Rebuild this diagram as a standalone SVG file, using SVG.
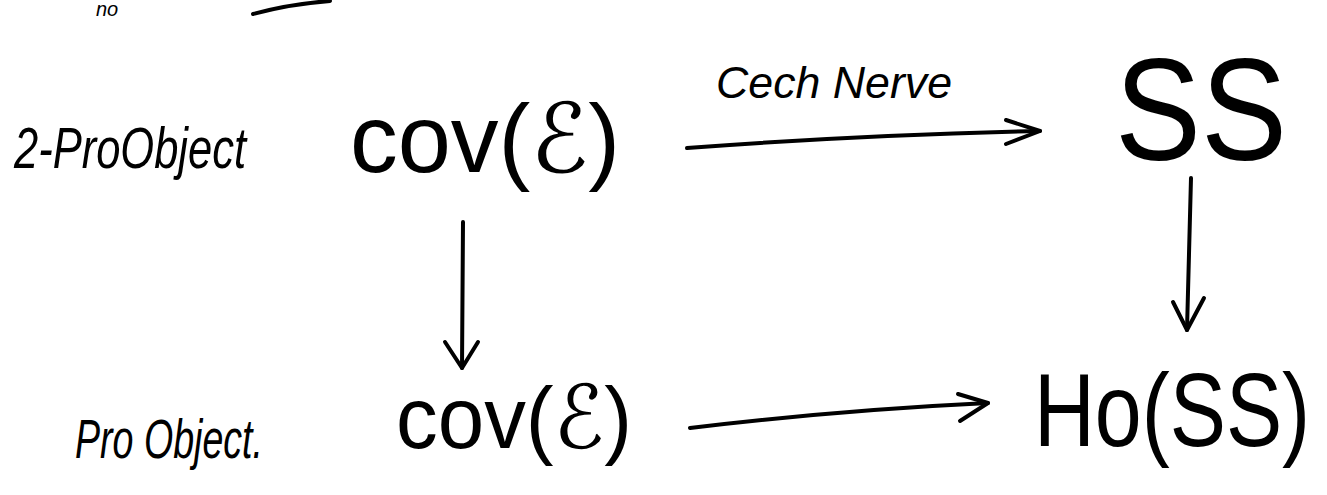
<svg xmlns="http://www.w3.org/2000/svg" width="1327" height="495" viewBox="0 0 1327 495">
<style>
.t{font-family:"Liberation Sans","DejaVu Sans",sans-serif;fill:#000}
.hw{font-family:"Liberation Sans","DejaVu Sans",sans-serif;fill:#000;font-style:italic}
.c{fill:none;stroke:#000;stroke-width:4;stroke-linecap:round;stroke-linejoin:round}
</style>
<rect width="1327" height="495" fill="#fff"/>
<g id="top-fragment">
<text class="hw" x="96" y="16" font-size="20">no</text>
<path class="c" d="M253,14 Q290,4 330,1" stroke-width="5"/>
</g>
<g id="label-2proobject">
<text class="hw" x="14" y="168" font-size="58" textLength="232" lengthAdjust="spacingAndGlyphs">2-ProObject</text>
</g>
<g id="node-cov-top">
<text class="t" x="350" y="172" font-size="96" textLength="270" lengthAdjust="spacingAndGlyphs">cov(ℰ)</text>
</g>
<g id="node-ss">
<text class="t" x="1115" y="160" font-size="145" textLength="172" lengthAdjust="spacingAndGlyphs">SS</text>
</g>
<g id="label-proobject">
<text class="hw" x="75" y="458" font-size="56" textLength="188" lengthAdjust="spacingAndGlyphs">Pro Object.</text>
</g>
<g id="node-cov-bottom">
<text class="t" x="396" y="448" font-size="88" textLength="236" lengthAdjust="spacingAndGlyphs">cov(ℰ)</text>
</g>
<g id="node-hoss">
<text class="t" transform="translate(1034,446) scale(0.81,1)" font-size="104">Ho(SS)</text>
</g>
<g id="connectors">
<path class="c" d="M687,148 Q860,135 1040,131"/>
<path class="c" d="M1006,120 L1040,131 L1006,144"/>
<text class="hw" x="716" y="98" font-size="44" textLength="236" lengthAdjust="spacingAndGlyphs">Cech Nerve</text>
<path class="c" d="M463,222 L462,368"/>
<path class="c" d="M445,342 L462,368 L478,342"/>
<path class="c" d="M1191,178 L1187,330"/>
<path class="c" d="M1173,302 L1187,330 L1204,298"/>
<path class="c" d="M690,428 Q840,410 988,403"/>
<path class="c" d="M958,394 L988,403 L960,421"/>
</g>
</svg>
